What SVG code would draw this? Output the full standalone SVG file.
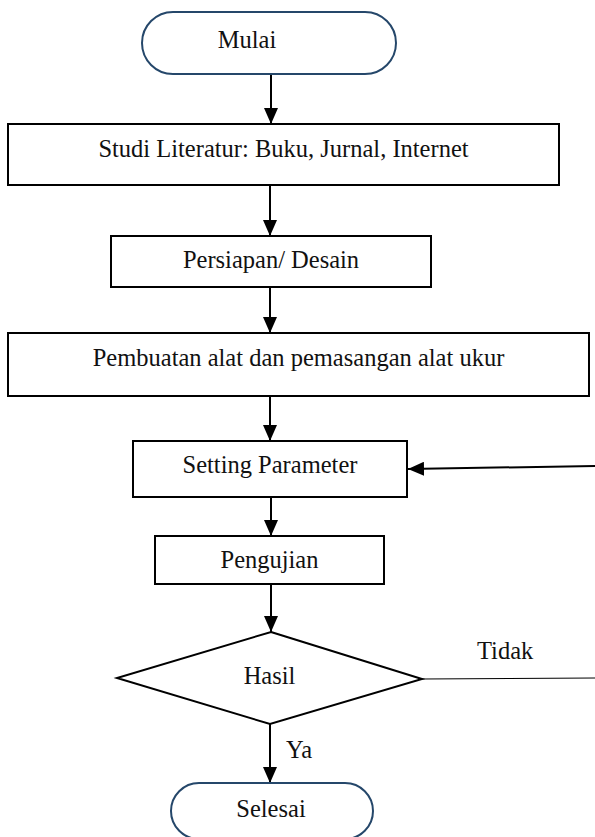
<svg xmlns="http://www.w3.org/2000/svg" width="595" height="837" viewBox="0 0 595 837">
<defs>
<style>
.box{fill:#fff;stroke:#000;stroke-width:2}
.term{fill:#fff;stroke:#25476a;stroke-width:2}
.t{font-family:"Liberation Serif","Times New Roman",serif;font-size:24.5px;fill:#111}
.c{stroke:#000;stroke-width:2;fill:none}
</style>
<marker id="ah" markerWidth="16" markerHeight="14" refX="16" refY="7" orient="auto" markerUnits="userSpaceOnUse">
<path d="M0,0 L16,7 L0,14 Z" fill="#000"/>
</marker>
</defs>
<rect width="595" height="837" fill="#fff"/>
<g id="connectors">
<line class="c" x1="271" y1="74" x2="271" y2="124" marker-end="url(#ah)"/>
<line class="c" x1="270" y1="185" x2="270" y2="236" marker-end="url(#ah)"/>
<line class="c" x1="270" y1="287" x2="270" y2="333" marker-end="url(#ah)"/>
<line class="c" x1="270" y1="396" x2="270" y2="441" marker-end="url(#ah)"/>
<line class="c" x1="271" y1="497" x2="271" y2="536" marker-end="url(#ah)"/>
<line class="c" x1="271" y1="584" x2="271" y2="632" marker-end="url(#ah)"/>
<line class="c" x1="270" y1="724" x2="270" y2="783" marker-end="url(#ah)"/>
<line class="c" x1="595" y1="466" x2="408" y2="469" marker-end="url(#ah)"/>
<line x1="422" y1="679" x2="595" y2="678" stroke="#000" stroke-width="1.2"/>
<text class="t" x="477" y="659">Tidak</text>
<text class="t" x="286" y="758">Ya</text>
</g>
<g id="mulai">
<rect class="term" x="142" y="12" width="254" height="62" rx="31" ry="31"/>
<text class="t" x="247" y="48" text-anchor="middle">Mulai</text>
</g>
<g id="studi">
<rect class="box" x="8" y="124" width="551" height="61"/>
<text class="t" x="283.5" y="157" text-anchor="middle">Studi Literatur: Buku, Jurnal, Internet</text>
</g>
<g id="persiapan">
<rect class="box" x="111" y="236" width="320" height="51"/>
<text class="t" x="271" y="268" text-anchor="middle">Persiapan/ Desain</text>
</g>
<g id="pembuatan">
<rect class="box" x="8" y="333" width="581" height="63"/>
<text class="t" x="298.5" y="366" text-anchor="middle">Pembuatan alat dan pemasangan alat ukur</text>
</g>
<g id="setting">
<rect class="box" x="133" y="441" width="274" height="56"/>
<text class="t" x="270" y="473" text-anchor="middle">Setting Parameter</text>
</g>
<g id="pengujian">
<rect class="box" x="155" y="536" width="229" height="48"/>
<text class="t" x="269.5" y="568" text-anchor="middle">Pengujian</text>
</g>
<g id="hasil">
<polygon class="box" points="271,632 422,679 270,724 117,678"/>
<text class="t" x="269.5" y="684" text-anchor="middle">Hasil</text>
</g>
<g id="selesai">
<rect class="term" x="171" y="783" width="202" height="56" rx="28" ry="28"/>
<text class="t" x="271" y="817" text-anchor="middle">Selesai</text>
</g>
</svg>
